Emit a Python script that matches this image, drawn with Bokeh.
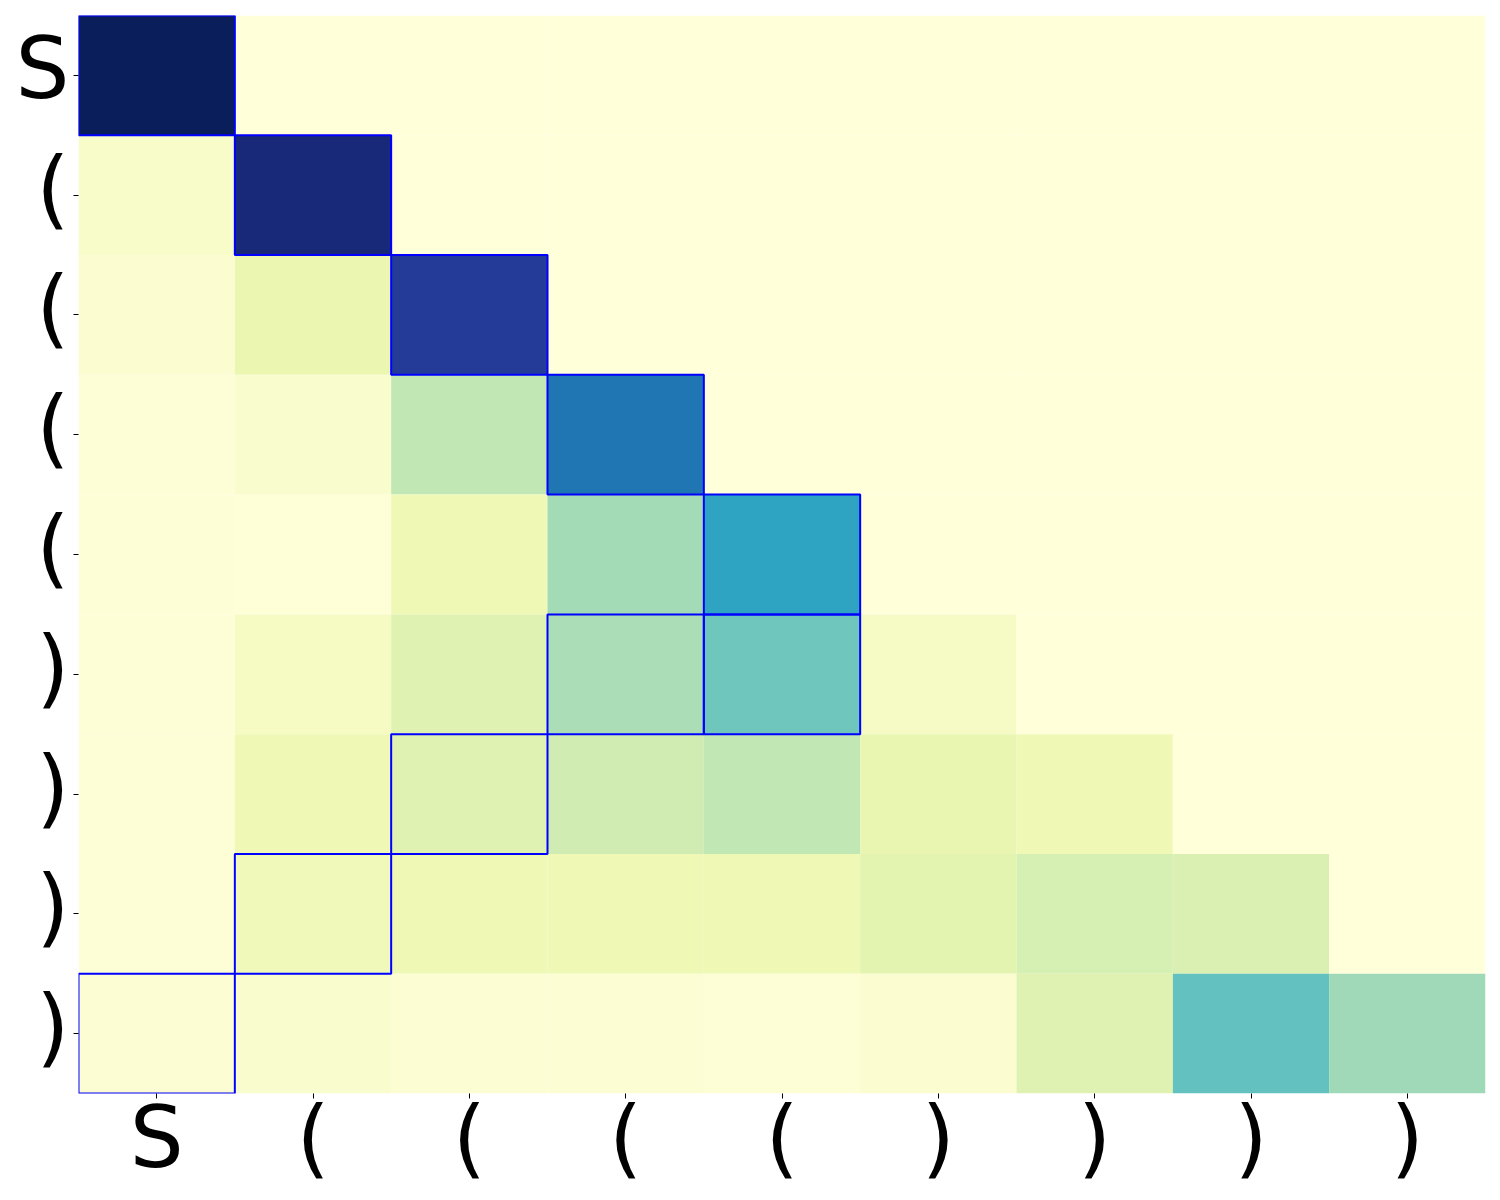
from bokeh.plotting import figure
from bokeh.models import Range1d, FixedTicker, ColumnDataSource, LinearAxis
from bokeh.transform import linear_cmap
from bokeh.palettes import YlGnBu9, interp_palette
from bokeh.embed import file_html
from bokeh.resources import INLINE

tokens = ["S", "(", "(", "(", "(", ")", ")", ")", ")"]

# attention weights, row = query token (top to bottom), column = key token
weights = [
    [0.99, 0.00, 0.00, 0.00, 0.00, 0.00, 0.00, 0.00, 0.00],
    [0.05, 0.93, 0.00, 0.00, 0.00, 0.00, 0.00, 0.00, 0.00],
    [0.03, 0.13, 0.85, 0.00, 0.00, 0.00, 0.00, 0.00, 0.00],
    [0.01, 0.04, 0.26, 0.69, 0.00, 0.00, 0.00, 0.00, 0.00],
    [0.01, 0.005, 0.11, 0.31, 0.56, 0.00, 0.00, 0.00, 0.00],
    [0.01, 0.07, 0.17, 0.30, 0.41, 0.06, 0.00, 0.00, 0.00],
    [0.01, 0.11, 0.17, 0.22, 0.26, 0.14, 0.11, 0.00, 0.00],
    [0.01, 0.10, 0.11, 0.11, 0.11, 0.16, 0.20, 0.19, 0.00],
    [0.02, 0.04, 0.02, 0.02, 0.01, 0.03, 0.17, 0.43, 0.32],
]

# highlighted (row, column) cells
highlight_rows = [0, 1, 2, 3, 4, 5, 5, 6, 7, 8]
highlight_cols = [0, 1, 2, 3, 4, 3, 4, 2, 1, 0]

n = len(tokens)
FRAME_W, FRAME_H = 1407, 1078
xs, ys, vs = [], [], []
for i in range(n):
    for j in range(n):
        xs.append(j + 0.5)
        ys.append(i + 0.5)
        vs.append(weights[i][j])
src = ColumnDataSource(dict(x=xs, y=ys, v=vs))
hsrc = ColumnDataSource(dict(x=[c + 0.5 for c in highlight_cols],
                             y=[r + 0.5 for r in highlight_rows]))

palette = interp_palette(list(YlGnBu9[::-1]), 256)

p = figure(frame_width=FRAME_W, frame_height=FRAME_H,
           x_range=Range1d(0, n), y_range=Range1d(n, 0),
           output_backend="svg", toolbar_location=None,
           min_border_left=78, min_border_top=15, min_border_right=15,
           min_border_bottom=10)
p.outline_line_color = None
p.grid.visible = False
p.background_fill_color = "white"

p.rect(x="x", y="y", width=1, height=1, source=src,
       fill_color=linear_cmap("v", palette, 0, 1),
       line_color=None)
p.rect(x="x", y="y", width=1, height=1, source=hsrc,
       fill_color=None, line_color="#0000ff", line_width=2)

ticks = [k + 0.5 for k in range(n)]
overrides = {k + 0.5: t for k, t in enumerate(tokens)}


def style(ax):
    ax.axis_line_color = None
    ax.minor_tick_line_color = None
    ax.major_tick_in = 0
    ax.major_tick_line_color = "black"
    ax.major_tick_line_width = 1
    ax.major_label_text_font = "DejaVu Sans"
    ax.major_label_text_font_size = "85px"
    ax.major_label_text_color = "black"


# x axis: ticks and labels
xa = p.xaxis[0]
style(xa)
xa.ticker = FixedTicker(ticks=ticks)
xa.major_label_overrides = overrides
xa.major_tick_out = 5
xa.major_label_standoff = -11

# y axis: tick marks only
ya = p.yaxis[0]
style(ya)
ya.ticker = FixedTicker(ticks=ticks)
ya.major_label_overrides = {t: "" for t in ticks}
ya.major_tick_out = 5
ya.major_label_standoff = 0
ya.major_label_text_font_size = "0px"

# y labels sit slightly above the tick marks
lift = 7.0 / (FRAME_H / n)
lab_ticks = [t - lift for t in ticks]
ly = LinearAxis(ticker=FixedTicker(ticks=lab_ticks),
                major_label_overrides={t: s for t, s in zip(lab_ticks, tokens)})
style(ly)
ly.major_tick_out = 0
ly.major_tick_line_color = None
ly.major_label_standoff = 4
ly.major_label_orientation = "horizontal"
p.add_layout(ly, "left")

open("out.html", "w").write(file_html(p, INLINE))
